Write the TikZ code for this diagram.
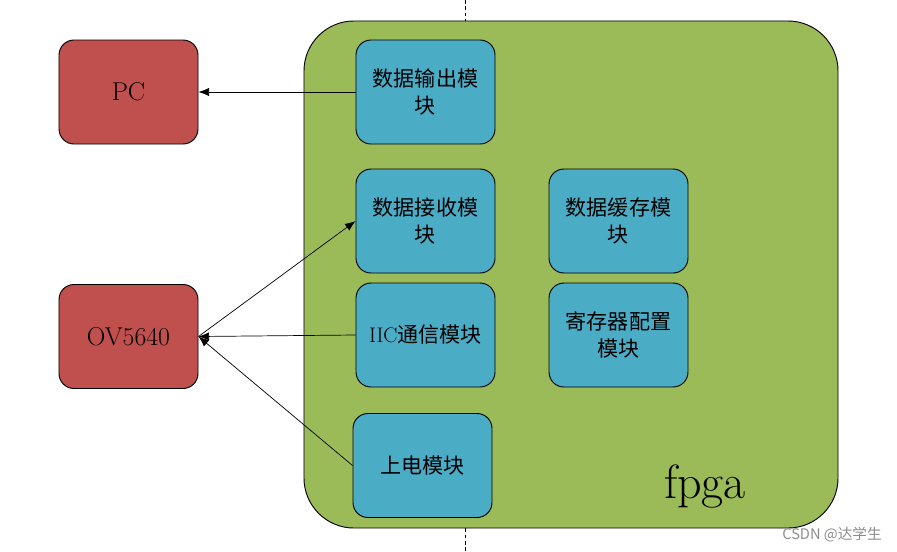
\documentclass[tikz,border=0pt]{standalone}
\usepackage{fontspec}
\newfontfamily\cjk{Noto Sans CJK SC}
\usetikzlibrary{arrows.meta}
\definecolor{fpgagreen}{HTML}{9BBB59}
\definecolor{devred}{HTML}{C0504D}
\definecolor{modblue}{HTML}{4BACC6}
\begin{document}
\begin{tikzpicture}[x=0.03cm,y=-0.03cm,
    dev/.style={rectangle,draw,line width=0.8pt,fill=devred,rounded corners=0.45cm,minimum width=4.17cm,minimum height=3.12cm,font=\fontsize{22}{26}\selectfont},
    mod/.style={rectangle,draw,line width=0.8pt,fill=modblue,rounded corners=0.45cm,minimum width=4.17cm,minimum height=3.12cm,align=center,font=\fontsize{18}{23}\selectfont\cjk},
    conn/.style={line width=0.6pt,-{Latex[length=9pt,width=7pt]}}]
  \useasboundingbox (0,0) rectangle (897,551);
  \node[rectangle,draw,line width=0.8pt,fill=fpgagreen,rounded corners=1.5cm,minimum width=16.02cm,minimum height=15.21cm] (fpga) at (571,274.5) {};
  \node[font=\fontsize{41}{48}\selectfont] (fl) at (705,487) {fpga};
  \coordinate(dt)at(465.5,0);\coordinate(db)at(465.5,551);
  \draw[line width=0.6pt,dash pattern=on 3pt off 2.5pt] (dt)--(dt|-fpga.north) (db)--(db|-fpga.south);
  \node[dev] (pc) at (128.5,92) {PC};
  \node[dev] (ov) at (128.5,336.5) {OV5640};
  \node[mod] (out) at (425.5,92) {数据输出模\\块};
  \node[mod] (rx) at (425.5,221) {数据接收模\\块};
  \node[mod] (iic) at (425.5,335) {{\normalfont IIC}通信模块};
  \node[mod] (pwr) at (422.5,465.5) {上电模块};
  \node[mod] (buf) at (618.5,221) {数据缓存模\\块};
  \node[mod] (reg) at (618.5,335) {寄存器配置\\模块};
  \draw[conn] (out.west)--(pc.east);
  \draw[conn,{Latex[length=9pt,width=7pt]}-] (rx.west)--(ov.east);
  \draw[conn] (iic.west)--(ov.east);
  \draw[conn] (pwr.west)--(ov.east);
  \node[text=black!45,font=\fontsize{12.5}{15}\selectfont\cjk] (wm) at (832,535) {CSDN @达学生};
\end{tikzpicture}
\end{document}
